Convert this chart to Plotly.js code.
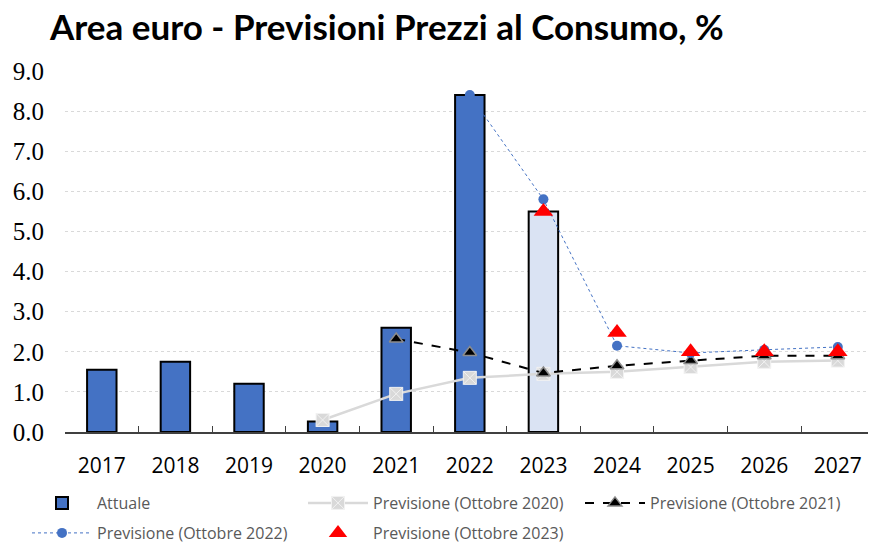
<!DOCTYPE html>
<html>
<head>
<meta charset="utf-8">
<script src="https://cdn.plot.ly/plotly-3.0.1.min.js"></script>
<style>html,body{margin:0;padding:0;background:#fff;}#chart{width:869px;height:546px;}</style>
</head>
<body>
<div id="chart"></div>
<script>
const years = ['2017','2018','2019','2020','2021','2022','2023','2024','2025','2026','2027'];
const actual = [1.55, 1.75, 1.2, 0.26, 2.6, 8.4, 5.5, null, null, null, null];
const fc2020 = [null, null, null, 0.3, 0.95, 1.35, 1.45, 1.5, 1.62, 1.75, 1.78];
const fc2021 = [null, null, null, null, 2.32, 1.98, 1.47, 1.65, 1.78, 1.9, 1.9];
const fc2022 = [null, null, null, null, null, 8.4, 5.8, 2.15, 1.97, 2.05, 2.12];
const fc2023 = [null, null, null, null, null, null, 5.5, 2.48, 2.0, 2.0, 2.0];
const barColors = ['#4472C4','#4472C4','#4472C4','#4472C4','#4472C4','#4472C4','#DAE3F3','#4472C4','#4472C4','#4472C4','#4472C4'];

const traces = [
  {type:'bar', name:'Attuale', x:years, y:actual, width:0.4, legend:'legend',
   marker:{color:barColors, line:{color:'#000', width:2}}},
  {type:'scatter', mode:'lines+markers', name:'Previsione (Ottobre 2020)', x:years, y:fc2020, legend:'legend',
   line:{color:'#d9d9d9', width:2.5},
   marker:{symbol:'square-x', size:13, color:'#d9d9d9', line:{color:'#f2f2f2', width:1}}},
  {type:'scatter', mode:'lines+markers', name:'Previsione (Ottobre 2021)', x:years, y:fc2021, legend:'legend3',
   line:{color:'#000', width:2, dash:'dash'},
   marker:{symbol:'triangle-up', size:12, color:'#000', line:{color:'#8c8c8c', width:1.5}}},
  {type:'scatter', mode:'lines+markers', name:'Previsione (Ottobre 2022)', x:years, y:fc2022, legend:'legend2',
   line:{color:'#4472C4', width:1, dash:'dot'},
   marker:{symbol:'circle', size:10, color:'#4472C4'}},
  {type:'scatter', mode:'markers', name:'Previsione (Ottobre 2023)', x:years, y:fc2023, legend:'legend2',
   marker:{symbol:'triangle-up', size:17, color:'#ff0000'}}
];

const legendCommon = {orientation:'h', xref:'container', yref:'container',
  xanchor:'left', yanchor:'middle', entrywidth:201, entrywidthmode:'pixels', itemwidth:60,
  font:{family:'Open Sans, sans-serif', size:16, color:'#595959'}, traceorder:'normal', bgcolor:'rgba(0,0,0,0)'};

const layout = {
  width:869, height:546,
  margin:{l:65, r:1, t:71, b:114},
  paper_bgcolor:'#fff', plot_bgcolor:'#fff',
  title:{text:'<b>Area euro - Previsioni Prezzi al Consumo, %</b>',
    font:{family:'Lato, sans-serif', size:35, color:'#000'},
    xref:'container', x:50/869, xanchor:'left', yref:'container', y:1-28/546, yanchor:'middle'},
  showlegend:true,
  legend:Object.assign({}, legendCommon, {x:27/869, y:1-503/546}),
  legend3:Object.assign({}, legendCommon, {x:580/869, y:1-503/546}),
  legend2:Object.assign({}, legendCommon, {x:27/869, y:1-533/546}),
  xaxis:{type:'category', range:[-0.5, 10.41], showgrid:false, showline:true, linecolor:'#404040', linewidth:1.5,
    ticks:'inside', tickson:'boundaries', ticklen:6, tickcolor:'#404040', ticklabelstandoff:14,
    tickfont:{family:'Open Sans, sans-serif', size:21, color:'#000'}, zeroline:false},
  yaxis:{range:[0,9], dtick:1, tickformat:'.1f', showgrid:true, gridcolor:'#d9d9d9', griddash:'dot', gridwidth:1,
    zeroline:false, showline:false, ticks:'', ticklabelstandoff:20,
    tickfont:{family:'Liberation Serif, serif', size:25, color:'#000'}}
};

Plotly.newPlot('chart', traces, layout, {displayModeBar:false, staticPlot:true});
</script>
</body>
</html>
